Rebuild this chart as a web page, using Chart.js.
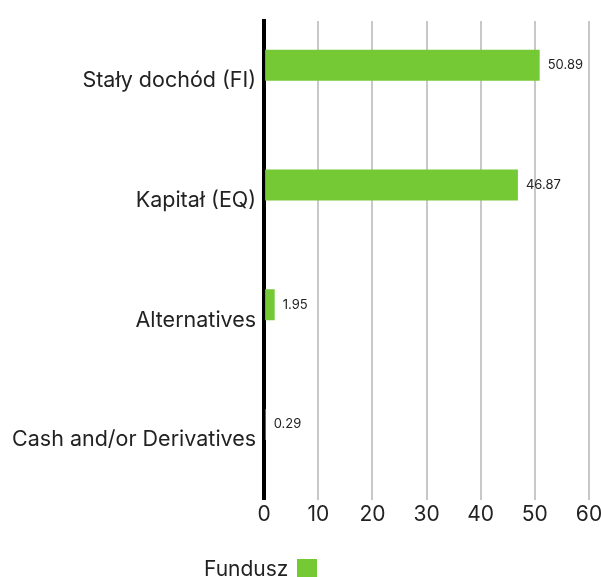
<!DOCTYPE html>
<html>
<head>
<meta charset="utf-8">
<script src="https://cdn.jsdelivr.net/npm/chart.js@4/dist/chart.umd.min.js"></script>
<style>
  html, body { margin: 0; padding: 0; background: #fff; }
  #wrap { position: relative; width: 601px; height: 577px; overflow: hidden; }
  #legend { position: absolute; left: 0; top: 556px; width: 601px; font-family: Inter, "Noto Sans", sans-serif; font-size: 21px; color: #222; }
  #legend .item { position: absolute; left: 204px; display: flex; align-items: center; white-space: nowrap; }
  #legend .box { display: inline-block; width: 20px; height: 20px; margin-left: 9px; }
</style>
</head>
<body>
<div id="wrap">
  <canvas id="c" width="601" height="577"></canvas>
  <div id="legend"></div>
</div>
<script>
const categories = ["Stały dochód (FI)", "Kapitał (EQ)", "Alternatives", "Cash and/or Derivatives"];
const fundValues = [50.89, 46.87, 1.95, 0.29];
const emptySeries = [null, null, null, null];
const xTicks = [0, 10, 20, 30, 40, 50, 60];
const seriesName = "Fundusz";
const seriesColor = "#74C935";

const FONT = 'Inter, "Noto Sans", sans-serif';

const valueLabels = {
  id: 'valueLabels',
  afterDatasetsDraw(chart) {
    const ctx = chart.ctx;
    const meta = chart.getDatasetMeta(0);
    ctx.save();
    ctx.font = '13px ' + FONT;
    ctx.fillStyle = '#222';
    ctx.textAlign = 'left';
    ctx.textBaseline = 'middle';
    meta.data.forEach((el, i) => {
      const v = chart.data.datasets[0].data[i];
      ctx.fillText(v.toFixed(2), el.x + 8, el.y);
    });
    ctx.restore();
  }
};

const chart = new Chart(document.getElementById('c'), {
  type: 'bar',
  data: {
    labels: categories,
    datasets: [
      { label: seriesName, data: fundValues, backgroundColor: seriesColor, barThickness: 31, inflateAmount: 0 },
      { label: '', data: emptySeries, backgroundColor: 'rgba(0,0,0,0)', barThickness: 31, inflateAmount: 0 }
    ]
  },
  options: {
    indexAxis: 'y',
    responsive: false,
    animation: false,
    layout: { padding: { top: 15, right: 0, bottom: 48, left: 4 } },
    plugins: {
      legend: { display: false },
      tooltip: { enabled: false }
    },
    scales: {
      x: {
        min: 0, max: 60,
        afterBuildTicks(scale) { scale.ticks = xTicks.map(v => ({ value: v })); },
        afterFit(scale) { scale.paddingRight = 12; },
        grid: { color: '#c8c8c8', lineWidth: 2, drawTicks: false },
        border: { display: false },
        ticks: { color: '#222', font: { family: FONT, size: 21 }, padding: 2 }
      },
      y: {
        z: 1,
        grid: { display: false, drawTicks: false },
        border: { display: true, color: '#000', width: 4 },
        ticks: { color: '#222', font: { family: FONT, size: 21.5 }, padding: 8 }
      }
    }
  },
  plugins: [valueLabels]
});

// HTML legend built from the chart's first dataset
const lg = document.getElementById('legend');
const ds = chart.data.datasets[0];
const item = document.createElement('div');
item.className = 'item';
const txt = document.createElement('span');
txt.textContent = ds.label;
const box = document.createElement('span');
box.className = 'box';
box.style.background = ds.backgroundColor;
item.appendChild(txt);
item.appendChild(box);
lg.appendChild(item);
</script>
</body>
</html>
